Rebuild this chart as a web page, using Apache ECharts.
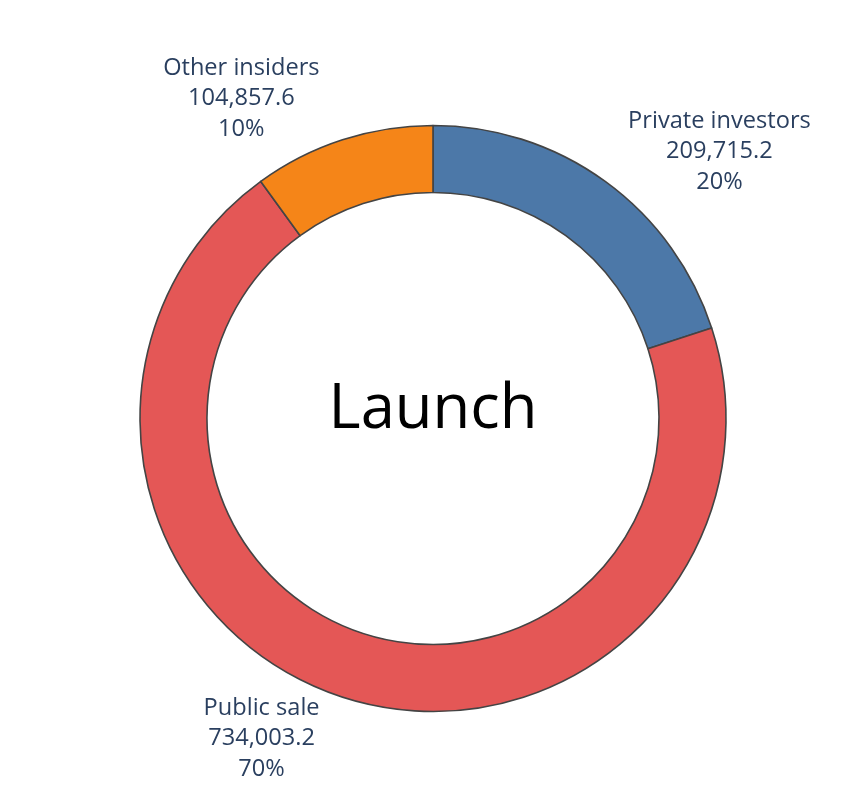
<!DOCTYPE html>
<html>
<head>
<meta charset="utf-8">
<script src="https://cdn.jsdelivr.net/npm/echarts@6/dist/echarts.min.js"></script>
<style>
html,body{margin:0;padding:0;background:#fff;}
#main{width:865px;height:810px;}
</style>
</head>
<body>
<div id="main"></div>
<script>
const categories = ['Private investors', 'Public sale', 'Other insiders'];
const values = [209715.2, 734003.2, 104857.6];
const colors = ['#4c78a8', '#e45756', '#f58518'];
const centerText = 'Launch';

const CX = 433, CY = 418.5, R_OUT = 293, R_IN = 226;
const total = values.reduce((a, b) => a + b, 0);

const chart = echarts.init(document.getElementById('main'), null, {renderer: 'canvas'});
chart.setOption({
  animation: false,
  graphic: [{
    type: 'text',
    x: CX, y: 410,
    style: {
      text: centerText,
      fontFamily: 'Open Sans',
      fontSize: 61.5,
      fill: '#000',
      textAlign: 'center',
      textVerticalAlign: 'middle'
    }
  }],
  series: [{
    type: 'pie',
    center: [CX, CY],
    radius: [R_IN, R_OUT],
    startAngle: 90,
    clockwise: true,
    avoidLabelOverlap: false,
    itemStyle: {borderColor: '#444', borderWidth: 1.6},
    emphasis: {disabled: true},
    label: {
      show: true,
      position: 'outside',
      fontFamily: 'Open Sans',
      fontSize: 23.6,
      lineHeight: 30.5,
      color: '#2a3f5f',
      align: 'center',
      formatter: function (p) {
        return p.name + '\n' + p.value.toLocaleString('en-US', {maximumFractionDigits: 1}) + '\n' + Math.round(p.percent) + '%';
      }
    },
    labelLine: {show: false},
    labelLayout: function (p) {
      let cum = 0;
      for (let i = 0; i < p.dataIndex; i++) cum += values[i];
      const mid = (cum + values[p.dataIndex] / 2) / total * 2 * Math.PI;
      const x = R_OUT * Math.sin(mid);
      const y = -R_OUT * Math.cos(mid);
      let dx = p.labelRect.width / 2;
      let dy = p.labelRect.height / 2;
      if (x < 0) dx *= -1;
      if (y < 0) dy *= -1;
      const ox = dx + Math.abs(dy) * (dx > 0 ? 1 : -1) / 2;
      const oy = dy / (1 + x * x / (y * y));
      return {x: CX + x + ox, y: CY + y + oy, align: 'center', verticalAlign: 'middle'};
    },
    data: categories.map((c, i) => ({name: c, value: values[i], itemStyle: {color: colors[i]}}))
  }]
});
</script>
</body>
</html>
